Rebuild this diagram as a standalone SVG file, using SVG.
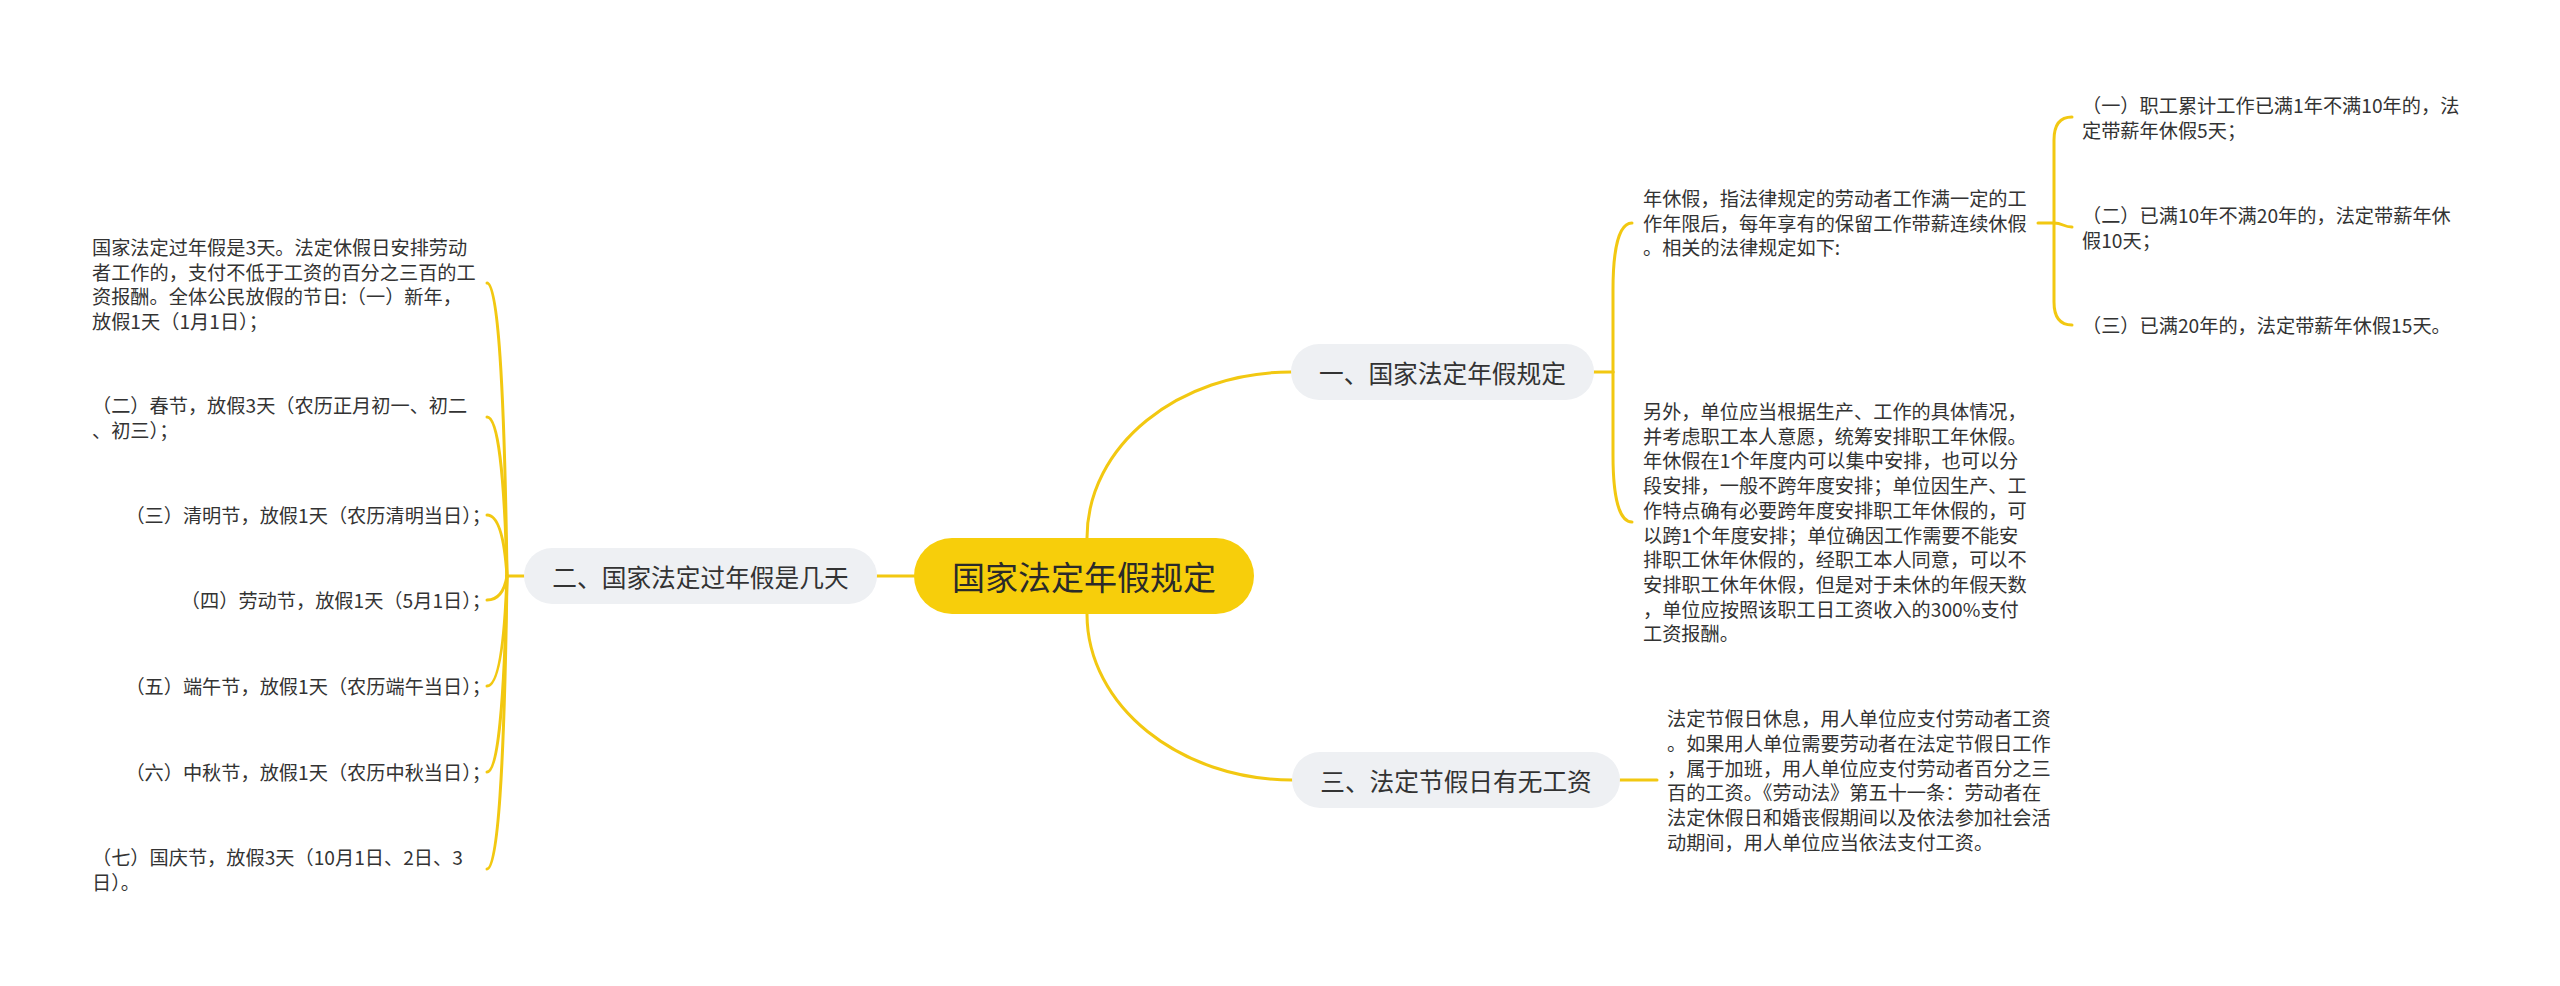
<svg xmlns="http://www.w3.org/2000/svg" width="2560" height="986" viewBox="0 0 2560 986">
<style>
text{font-family:"Noto Sans CJK SC","Microsoft YaHei",sans-serif;fill:#333;dominant-baseline:central}
.leaf{font-size:19.2px}
.end{text-anchor:end}
.br{font-size:24.7px;text-anchor:middle}
.bn{fill:#EEF0F3}
.root{fill:#F7CE0B}
.rt{font-size:33px;text-anchor:middle;fill:#2a2a2a}
.ln{fill:none;stroke:#F2C811;stroke-width:3;stroke-linecap:round}
</style>
<rect width="2560" height="986" fill="#fff"/>
<g id="connectors" class="ln">
<path d="M914,576 L877,576"/>
<path d="M1087,538 C1087,446 1178,372 1291,372"/>
<path d="M1087,614 C1087,706 1180,780 1292,780"/>
<path d="M524,576 L507,576"/>
<path d="M507,576 Q503,283 487,283"/>
<path d="M507,576 Q503,417 487,417"/>
<path d="M507,576 Q503,515 487,515"/>
<path d="M507,576 Q503,600 487,600"/>
<path d="M507,576 Q503,686 487,686"/>
<path d="M507,576 Q503,772 487,772"/>
<path d="M507,576 Q503,869 487,869"/>
<path d="M1594,372 L1613,372"/>
<path d="M1613,372 L1613,290 C1613,245 1620,223 1632,223"/>
<path d="M1613,372 L1613,455 C1613,500 1620,522 1632,522"/>
<path d="M2038,223 L2054,223"/>
<path d="M2054,223 L2054,140 Q2054,117 2072,117"/>
<path d="M2054,223 C2063,223 2063,227 2072,227"/>
<path d="M2054,223 L2054,302 Q2054,325 2072,325"/>
<path d="M1620,780 L1657,780"/>
</g>
<g id="root">
<rect class="root" x="914" y="538" width="340" height="76" rx="38"/>
<text class="rt" x="1084" y="576">国家法定年假规定</text>
</g>
<g id="branch-1">
<rect class="bn" x="1291" y="344" width="303" height="56" rx="28"/>
<text class="br" x="1442.5" y="372">一、国家法定年假规定</text>
</g>
<g id="branch-2">
<rect class="bn" x="524" y="548" width="353" height="56" rx="28"/>
<text class="br" x="700.5" y="576">二、国家法定过年假是几天</text>
</g>
<g id="branch-3">
<rect class="bn" x="1292" y="752" width="328" height="56" rx="28"/>
<text class="br" x="1456" y="780">三、法定节假日有无工资</text>
</g>
<g id="b1-text1">
<text class="leaf"><tspan x="1643" y="198">年休假，指法律规定的劳动者工作满一定的工</tspan><tspan x="1643" y="222.7">作年限后，每年享有的保留工作带薪连续休假</tspan><tspan x="1643" y="247.4">。相关的法律规定如下:</tspan></text>
</g>
<g id="b1-item1">
<text class="leaf"><tspan x="2082" y="105">（一）职工累计工作已满1年不满10年的，法</tspan><tspan x="2082" y="129.7">定带薪年休假5天；</tspan></text>
</g>
<g id="b1-item2">
<text class="leaf"><tspan x="2082" y="215">（二）已满10年不满20年的，法定带薪年休</tspan><tspan x="2082" y="239.7">假10天；</tspan></text>
</g>
<g id="b1-item3">
<text class="leaf" x="2082" y="325">（三）已满20年的，法定带薪年休假15天。</text>
</g>
<g id="b1-text2">
<text class="leaf"><tspan x="1643" y="411">另外，单位应当根据生产、工作的具体情况，</tspan><tspan x="1643" y="435.7">并考虑职工本人意愿，统筹安排职工年休假。</tspan><tspan x="1643" y="460.4">年休假在1个年度内可以集中安排，也可以分</tspan><tspan x="1643" y="485.1">段安排，一般不跨年度安排；单位因生产、工</tspan><tspan x="1643" y="509.8">作特点确有必要跨年度安排职工年休假的，可</tspan><tspan x="1643" y="534.5">以跨1个年度安排；单位确因工作需要不能安</tspan><tspan x="1643" y="559.2">排职工休年休假的，经职工本人同意，可以不</tspan><tspan x="1643" y="583.9">安排职工休年休假，但是对于未休的年假天数</tspan><tspan x="1643" y="608.6">，单位应按照该职工日工资收入的300%支付</tspan><tspan x="1643" y="633.3">工资报酬。</tspan></text>
</g>
<g id="b3-text">
<text class="leaf"><tspan x="1667" y="718">法定节假日休息，用人单位应支付劳动者工资</tspan><tspan x="1667" y="742.8">。如果用人单位需要劳动者在法定节假日工作</tspan><tspan x="1667" y="767.6">，属于加班，用人单位应支付劳动者百分之三</tspan><tspan x="1667" y="792.4">百的工资。《劳动法》第五十一条：劳动者在</tspan><tspan x="1667" y="817.2">法定休假日和婚丧假期间以及依法参加社会活</tspan><tspan x="1667" y="842">动期间，用人单位应当依法支付工资。</tspan></text>
</g>
<g id="b2-leaf1">
<text class="leaf"><tspan x="92" y="247">国家法定过年假是3天。法定休假日安排劳动</tspan><tspan x="92" y="271.6">者工作的，支付不低于工资的百分之三百的工</tspan><tspan x="92" y="296.2">资报酬。全体公民放假的节日:（一）新年，</tspan><tspan x="92" y="320.8">放假1天（1月1日）；</tspan></text>
</g>
<g id="b2-leaf2">
<text class="leaf"><tspan x="92" y="405">（二）春节，放假3天（农历正月初一、初二</tspan><tspan x="92" y="429.6">、初三）；</tspan></text>
</g>
<g id="b2-leaf3">
<text class="leaf end" x="491" y="515">（三）清明节，放假1天（农历清明当日）；</text>
</g>
<g id="b2-leaf4">
<text class="leaf end" x="491" y="600">（四）劳动节，放假1天（5月1日）；</text>
</g>
<g id="b2-leaf5">
<text class="leaf end" x="491" y="686">（五）端午节，放假1天（农历端午当日）；</text>
</g>
<g id="b2-leaf6">
<text class="leaf end" x="491" y="772">（六）中秋节，放假1天（农历中秋当日）；</text>
</g>
<g id="b2-leaf7">
<text class="leaf"><tspan x="92" y="857">（七）国庆节，放假3天（10月1日、2日、3</tspan><tspan x="92" y="881.6">日）。</tspan></text>
</g>
</svg>
